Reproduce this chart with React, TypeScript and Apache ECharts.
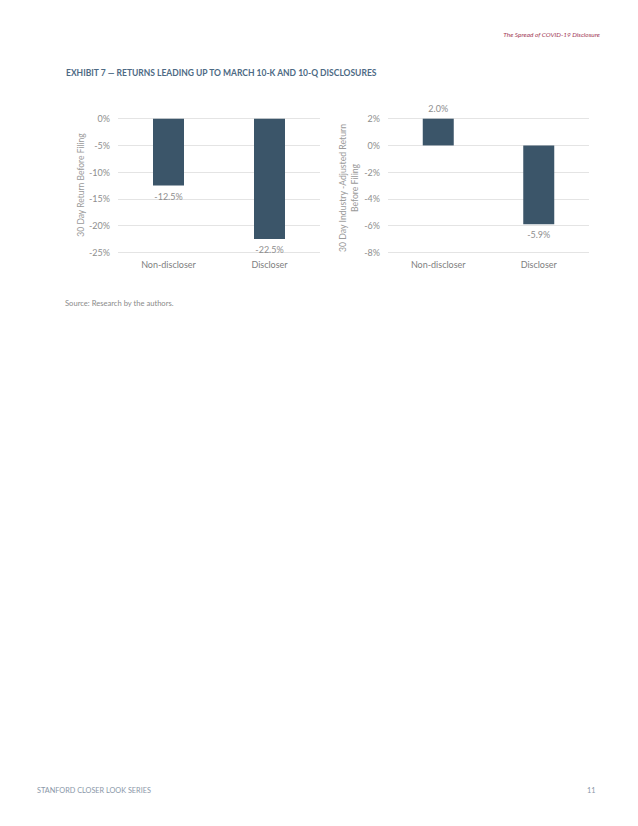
import React, { useEffect, useRef } from "react";
import * as echarts from "echarts";

const categories = ["Non-discloser", "Discloser"];
const leftValues = [-12.5, -22.5];
const rightValues = [2.0, -5.9];
const leftAxisName = "30 Day Return Before Filing";
const rightAxisName = ["30 Day Industry -Adjusted Return", "Before Filing"];
const headerText = "The Spread of COVID-19 Disclosure";
const titleText = "EXHIBIT 7 — RETURNS LEADING UP TO MARCH 10-K AND 10-Q DISCLOSURES";
const sourceText = "Source: Research by the authors.";
const footerText = "STANFORD CLOSER LOOK SERIES";
const pageNumber = "11";

const FONT = "Lato, 'Open Sans', sans-serif";
const BAR = "#3b5569";
const TICK = "#8e8e8e";
const CAT = "#808080";

export default function App() {
  const ref = useRef<HTMLDivElement>(null);
  useEffect(() => {
    if (!ref.current) return;
    const chart = echarts.init(ref.current, null, { renderer: "svg" });
    const barLabel = (v: number, decimals: number) => ({
      value: v,
      label: {
        show: true,
        position: v >= 0 ? "top" : "bottom",
        distance: 6,
        formatter: () => v.toFixed(decimals) + "%",
        color: TICK,
        fontSize: 9,
        fontFamily: FONT,
      },
    });
    const yAxisBase = {
      type: "value",
      axisLine: { show: false },
      axisTick: { show: false },
      axisLabel: { formatter: "{value}%", color: TICK, fontSize: 9, fontFamily: FONT, margin: 8 },
      splitLine: { lineStyle: { color: "#e4e4e4", width: 1 } },
    };
    const xAxisBase = {
      type: "category",
      data: categories,
      position: "bottom",
      axisLine: { show: false, onZero: false },
      axisTick: { show: false },
      axisLabel: { color: CAT, fontSize: 9, fontFamily: FONT, margin: 8 },
    };
    chart.setOption({
      animation: false,
      backgroundColor: "#ffffff",
      grid: [
        { left: 118, top: 118.7, width: 202, height: 133.6 },
        { left: 388, top: 118.7, width: 201, height: 133.6 },
      ],
      xAxis: [
        { ...xAxisBase, gridIndex: 0 },
        { ...xAxisBase, gridIndex: 1 },
      ],
      yAxis: [
        { ...yAxisBase, gridIndex: 0, min: -25, max: 0, interval: 5 },
        { ...yAxisBase, gridIndex: 1, min: -8, max: 2, interval: 2 },
      ],
      series: [
        {
          type: "bar",
          xAxisIndex: 0,
          yAxisIndex: 0,
          barWidth: 31,
          itemStyle: { color: BAR },
          data: leftValues.map((v) => barLabel(v, 1)),
        },
        {
          type: "bar",
          xAxisIndex: 1,
          yAxisIndex: 1,
          barWidth: 31,
          itemStyle: { color: BAR },
          data: rightValues.map((v) => barLabel(v, 1)),
        },
      ],
      graphic: [
        {
          type: "text",
          right: 38,
          top: 31,
          style: { text: headerText, fill: "#a23a55", fontSize: 6.5, fontStyle: "italic", fontFamily: FONT },
        },
        {
          type: "text",
          left: 66,
          top: 68,
          style: { text: titleText, fill: "#4d6a84", fontSize: 8.5, fontWeight: "bold", fontFamily: FONT },
        },
        {
          type: "text",
          x: 81,
          y: 185,
          rotation: Math.PI / 2,
          style: { text: leftAxisName, fill: "#9a9a9a", fontSize: 8.5, fontFamily: FONT, align: "center", verticalAlign: "middle" },
        },
        {
          type: "text",
          x: 342,
          y: 188,
          rotation: Math.PI / 2,
          style: { text: rightAxisName[0], fill: "#9a9a9a", fontSize: 8.7, fontFamily: FONT, align: "center", verticalAlign: "middle" },
        },
        {
          type: "text",
          x: 354,
          y: 188,
          rotation: Math.PI / 2,
          style: { text: rightAxisName[1], fill: "#9a9a9a", fontSize: 8.7, fontFamily: FONT, align: "center", verticalAlign: "middle" },
        },
        {
          type: "text",
          left: 65,
          top: 299,
          style: { text: sourceText, fill: "#8a8a8a", fontSize: 7.6, fontFamily: FONT },
        },
        {
          type: "text",
          left: 37,
          top: 787,
          style: { text: footerText, fill: "#8a97a8", fontSize: 7.3, fontFamily: FONT },
        },
        {
          type: "text",
          left: 587,
          top: 787,
          style: { text: pageNumber, fill: "#8a97a8", fontSize: 7.3, fontFamily: FONT },
        },
      ],
    });
    return () => chart.dispose();
  }, []);
  return (
    <div
      ref={ref}
      style={{ position: "absolute", left: 0, top: 0, width: 638, height: 826 }}
    />
  );
}
